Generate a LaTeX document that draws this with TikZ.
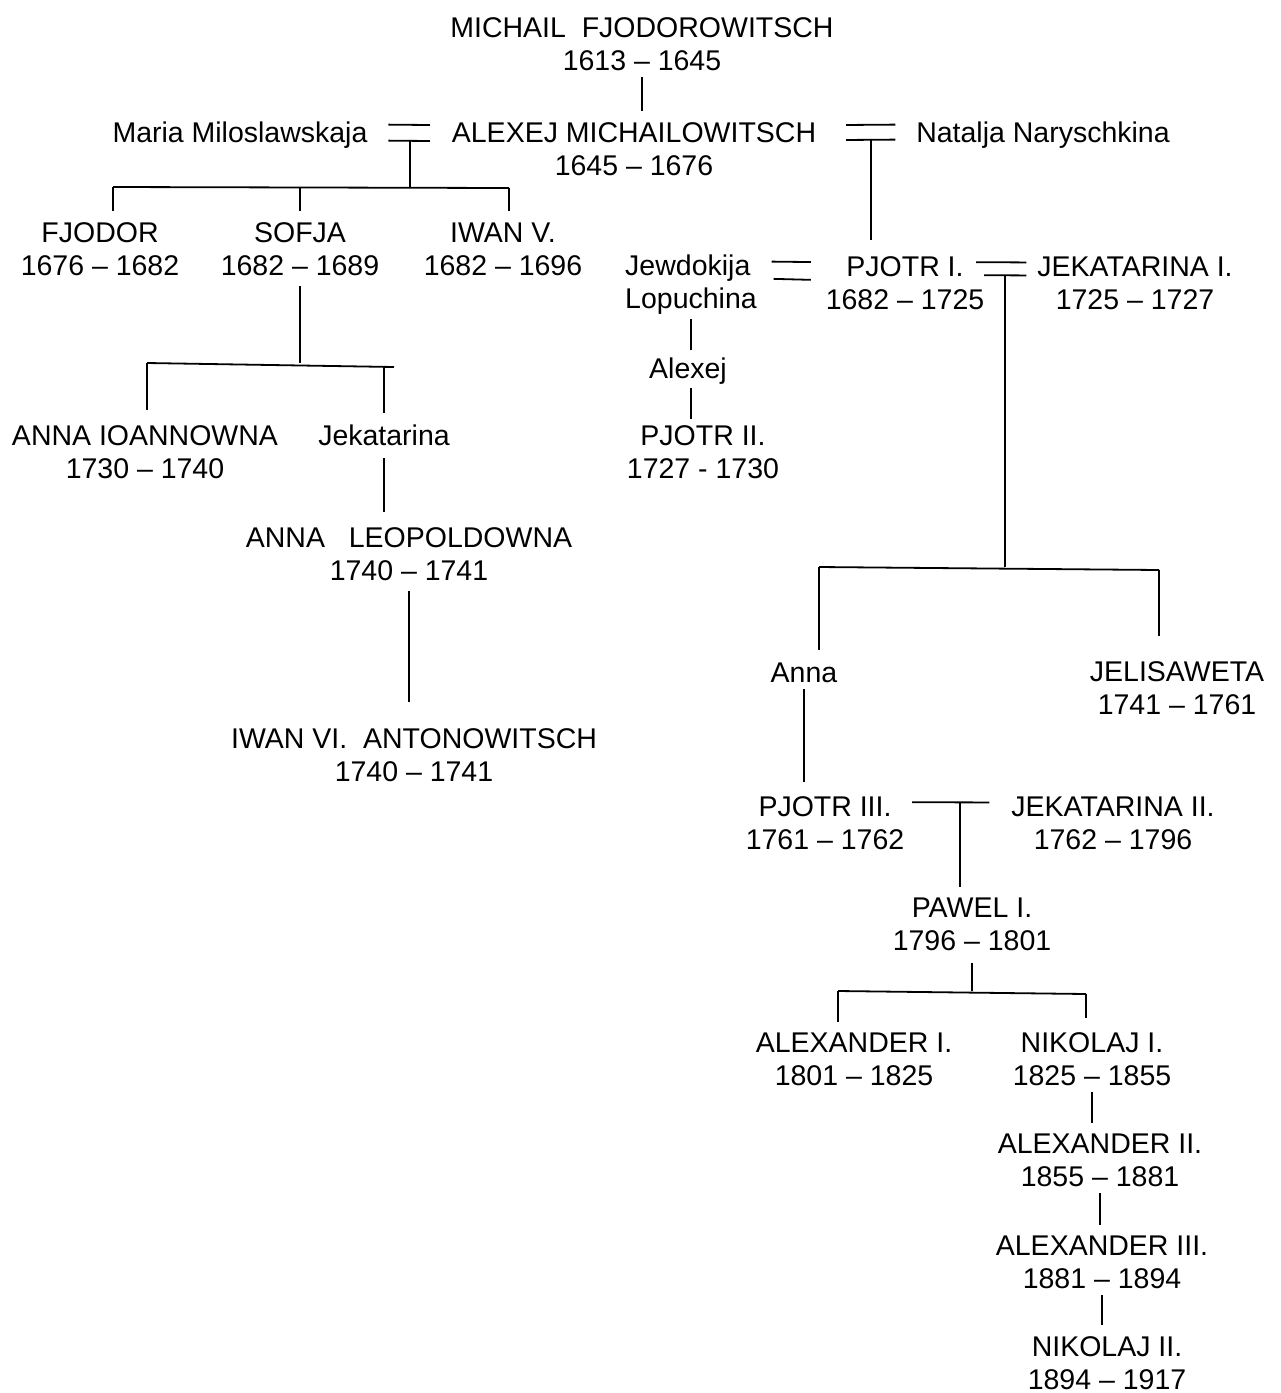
\documentclass[tikz,border=0pt]{standalone}
\usepackage{fontspec}
\setmainfont{Liberation Sans}
\begin{document}
\begin{tikzpicture}[x=1pt,y=-1pt,line width=1.8pt,
    person/.style={font=\fontsize{28.5}{33}\selectfont,align=center,inner sep=0pt,anchor=base},
    descent/.style={shorten <=6pt,shorten >=10pt},
    stub/.style={shorten >=10pt}]
    \useasboundingbox (0,0) rectangle (1281,1393);
    \node[person] (michail) at (642,70) {MICHAIL~~FJODOROWITSCH\\1613 – 1645};
    \node[person] (maria) at (240,142) {Maria Miloslawskaja};
    \node[person] (alexej) at (634,175) {ALEXEJ MICHAILOWITSCH\\1645 – 1676};
    \node[person] (natalja) at (1043,142) {Natalja Naryschkina};
    \node[person] (fjodor) at (100,275) {FJODOR\\1676 – 1682};
    \node[person] (sofja) at (300,275) {SOFJA\\1682 – 1689};
    \node[person] (iwanv) at (503,275) {IWAN V.\\1682 – 1696};
    \node[person,align=left] (jewdokija) at (691,308) {Jewdokija\\Lopuchina};
    \node[person] (pjotr1) at (905,309) {PJOTR I.\\1682 – 1725};
    \node[person] (jekatarina1) at (1135,309) {JEKATARINA I.\\1725 – 1727};
    \node[person] (alexejson) at (688,378) {Alexej};
    \node[person] (annai) at (145,478) {ANNA IOANNOWNA\\1730 – 1740};
    \node[person] (jekatarina) at (384,445) {Jekatarina};
    \node[person] (pjotr2) at (703,478) {PJOTR II.\\1727 - 1730};
    \node[person] (annal) at (409,580) {ANNA~~~LEOPOLDOWNA\\1740 – 1741};
    \node[person] (iwanvi) at (414,781) {IWAN VI.~~ANTONOWITSCH\\1740 – 1741};
    \node[person] (anna) at (804,682) {Anna};
    \node[person] (jelisaweta) at (1177,714) {JELISAWETA\\1741 – 1761};
    \node[person] (pjotr3) at (825,849) {PJOTR III.\\1761 – 1762};
    \node[person] (jekatarina2) at (1113,849) {JEKATARINA II.\\1762 – 1796};
    \node[person] (pawel) at (972,950) {PAWEL I.\\1796 – 1801};
    \node[person] (alexander1) at (854,1085) {ALEXANDER I.\\1801 – 1825};
    \node[person] (nikolaj1) at (1092,1085) {NIKOLAJ I.\\1825 – 1855};
    \node[person] (alexander2) at (1100,1186) {ALEXANDER II.\\1855 – 1881};
    \node[person] (alexander3) at (1102,1288) {ALEXANDER III.\\1881 – 1894};
    \node[person] (nikolaj2) at (1107,1389) {NIKOLAJ II.\\1894 – 1917};
    \coordinate (b1l) at (113,187);
    \coordinate (b1r) at (509,188);
    \coordinate (b2l) at (147,363);
    \coordinate (b2r) at (394,367);
    \coordinate (b3l) at (819,567);
    \coordinate (b3r) at (1159,570);
    \coordinate (b4l) at (838,991);
    \coordinate (b4r) at (1086,994);
    \draw[shorten <=20pt,shorten >=21pt] ([yshift=-4pt]maria.north east) -- ([yshift=-4pt]alexej.north west);
    \draw[shorten <=20pt,shorten >=21pt] ([yshift=-20pt]maria.north east) -- coordinate[midway] (w1) ([yshift=-20pt]alexej.north west);
    \draw[shorten <=29pt,shorten >=20pt] ([yshift=-4pt]alexej.north east) -- ([yshift=-4pt]natalja.north west);
    \draw[shorten <=29pt,shorten >=20pt] ([yshift=-19pt]alexej.north east) -- coordinate[pos=0.55] (w2) ([yshift=-19pt]natalja.north west);
    \draw[shorten <=14pt,shorten >=14pt] ([yshift=-8pt]jewdokija.north east) -- ([yshift=-7pt]pjotr1.north west);
    \draw[shorten <=16pt,shorten >=14pt] ([yshift=-25pt]jewdokija.north east) -- ([yshift=-25pt]pjotr1.north west);
    \draw[shorten <=-9pt,shorten >=10pt] ([yshift=-7pt]pjotr1.north east) -- ([yshift=-7pt]jekatarina1.north west);
    \draw[shorten <=-1pt,shorten >=10pt] ([yshift=-20pt]pjotr1.north east) -- coordinate[pos=0.39] (w3) ([yshift=-20pt]jekatarina1.north west);
    \draw[shorten <=7pt,shorten >=21pt] ([yshift=-7pt]pjotr3.north east) -- coordinate[pos=0.52] (w4) ([yshift=-7pt]jekatarina2.north west);
    \draw[descent] (michail.south) -- (michail.south |- alexej.north);
    \draw (w1) -- (w1 |- b1l);
    \draw (b1l) -- (b1r);
    \draw[stub] (b1l) -- (b1l |- fjodor.north);
    \draw[stub] (b1l -| sofja.north) -- (sofja.north);
    \draw[stub] (b1r) -- (b1r |- iwanv.north);
    \draw[shorten <=10pt] (sofja.south) -- (sofja.south |- b2l);
    \draw (b2l) -- (b2r);
    \draw[shorten >=14pt] (b2l) -- (b2l |- annai.north);
    \draw[stub] (b2r -| jekatarina.north) -- (jekatarina.north);
    \draw[shorten <=12pt,shorten >=14pt] (jekatarina.south) -- (jekatarina.south |- annal.north);
    \draw[shorten <=10pt,shorten >=25pt] (annal.south) -- (annal.south |- iwanvi.north);
    \draw[shorten >=15pt] (w2) -- (w2 |- pjotr1.north);
    \draw[shorten <=4pt,shorten >=6pt] (jewdokija.south) -- (jewdokija.south |- alexejson.north);
    \draw[shorten <=3pt,shorten >=5pt] (alexejson.south -| jewdokija.south) -- (jewdokija.south |- pjotr2.north);
    \draw (w3) -- (w3 |- b3l);
    \draw (b3l) -- (b3r);
    \draw[shorten >=12pt] (b3l) -- (b3l |- anna.north);
    \draw[shorten >=24pt] (b3r) -- (b3r |- jelisaweta.north);
    \draw[shorten <=6pt,shorten >=13pt] (anna.south) -- (anna.south |- pjotr3.north);
    \draw[stub] (w4) -- (w4 |- pawel.north);
    \draw[shorten <=12pt] (pawel.south) -- (pawel.south |- b4l);
    \draw (b4l) -- (b4r);
    \draw[stub] (b4l) -- (b4l |- alexander1.north);
    \draw[shorten >=13pt] (b4r) -- (b4r |- nikolaj1.north);
    \draw[descent] (nikolaj1.south) -- (nikolaj1.south |- alexander2.north);
    \draw[descent] (alexander2.south) -- (alexander2.south |- alexander3.north);
    \draw[descent] (alexander3.south) -- (alexander3.south |- nikolaj2.north);
\end{tikzpicture}
\end{document}
